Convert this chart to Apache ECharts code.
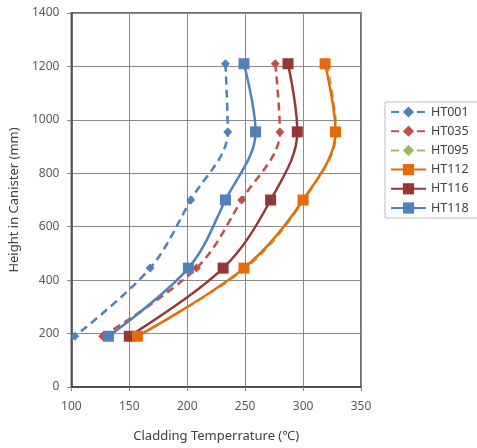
<!DOCTYPE html>
<html>
<head>
<meta charset="utf-8">
<script src="https://cdn.jsdelivr.net/npm/echarts@6/dist/echarts.min.js"></script>
<style>
  html, body { margin: 0; padding: 0; background: #fff; }
  #chart { width: 477px; height: 448px; }
</style>
</head>
<body>
<div id="chart"></div>
<script>
// heights of measuring points (mm)
const heights = [1210, 955, 700, 445, 190]
// cladding temperatures (℃) per test
const ht001 = [233, 235, 203, 168, 103]
const ht035 = [276, 280, 247, 208, 127]
const ht095 = [321, 329, 301, 251, 157]
const ht112 = [319, 328, 300, 249, 157]
const ht116 = [287, 295, 272, 231, 150]
const ht118 = [249, 259, 233, 201, 132]

const pairs = (xs) => xs.map((x, i) => [x, heights[i]])

const chart = echarts.init(document.getElementById('chart'))

const axisText = { color: '#595959', fontSize: 12, fontFamily: 'Noto Sans' }

function mk(name, data, color, opts) {
  return {
    name,
    type: 'line',
    data: pairs(data),
    smooth: 0.35,
    symbol: opts.symbol,
    symbolSize: opts.size,
    lineStyle: { color, width: opts.width || 2.5, type: opts.dash ? [8, 5] : 'solid' },
    itemStyle: { color },
    z: opts.z || 2,
  }
}

const option = {
  animation: false,
  backgroundColor: '#fff',
  grid: {
    left: 71, right: 116, top: 13, bottom: 60,
    show: true, borderColor: '#404040', borderWidth: 1.5,
  },
  legend: {
    orient: 'vertical',
    left: 385,
    top: 102,
    itemWidth: 35,
    itemHeight: 14,
    itemGap: 5.2,
    padding: [3, 11, 3, 5],
    borderColor: '#bfbfbf',
    borderWidth: 1,
    textStyle: { color: '#404040', fontSize: 12.5, lineHeight: 14, fontFamily: 'Noto Sans' },
    data: ['HT001', 'HT035', 'HT095', 'HT112', 'HT116', 'HT118'],
  },
  xAxis: {
    type: 'value',
    min: 100, max: 350, interval: 50,
    name: 'Cladding Temperrature (℃)',
    nameLocation: 'middle',
    nameGap: 43,
    nameTextStyle: { color: '#404040', fontSize: 13, fontFamily: 'Noto Sans' },
    axisLine: { show: true, lineStyle: { color: '#404040', width: 1.5 } },
    axisTick: { show: true, length: 4, lineStyle: { color: '#808080' } },
    axisLabel: { ...axisText, margin: 14 },
    splitLine: { lineStyle: { color: '#8c8c8c', width: 1 } },
  },
  yAxis: {
    type: 'value',
    min: 0, max: 1400, interval: 200,
    name: 'Height in Canister (mm)',
    nameLocation: 'middle',
    nameGap: 45,
    nameTextStyle: { color: '#404040', fontSize: 13, fontFamily: 'Noto Sans' },
    axisLine: { show: true, lineStyle: { color: '#404040', width: 1.5 } },
    axisTick: { show: true, length: 4, lineStyle: { color: '#808080' } },
    axisLabel: { ...axisText, margin: 12, formatter: (v) => String(v) },
    splitLine: { lineStyle: { color: '#8c8c8c', width: 1 } },
  },
  series: [
    mk('HT001', ht001, '#4f81bd', { symbol: 'diamond', size: 9, dash: true }),
    mk('HT035', ht035, '#c0504d', { symbol: 'diamond', size: 9, dash: true }),
    mk('HT095', ht095, '#9bbb59', { symbol: 'diamond', size: 6, dash: true, width: 1.5, z: 1 }),
    mk('HT112', ht112, '#e36c09', { symbol: 'rect', size: 11, z: 3 }),
    mk('HT116', ht116, '#953735', { symbol: 'rect', size: 11 }),
    mk('HT118', ht118, '#4f81bd', { symbol: 'rect', size: 11 }),
  ],
}

chart.setOption(option)
</script>
</body>
</html>
